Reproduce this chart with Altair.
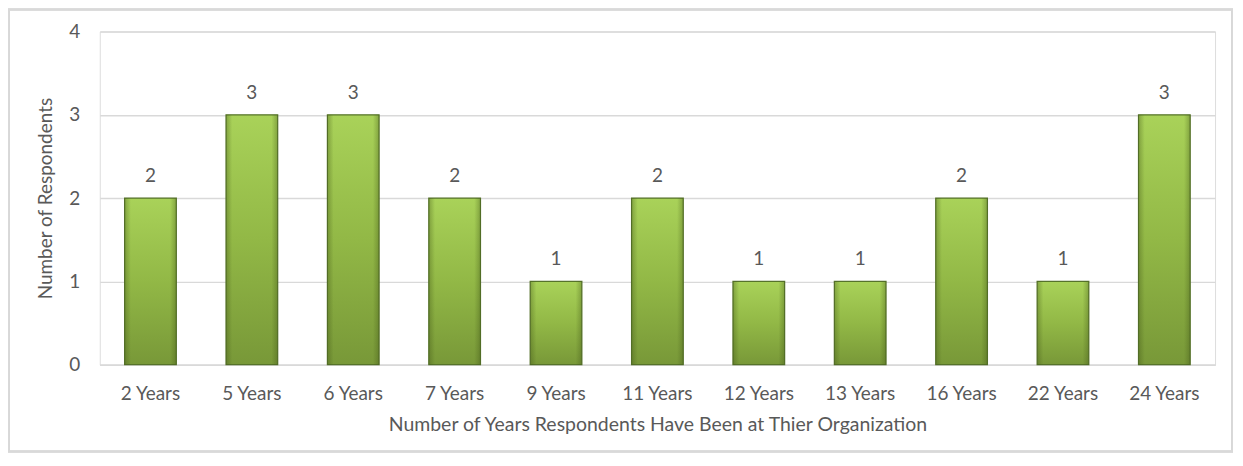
import altair as alt
import pandas as pd

categories = ["2 Years", "5 Years", "6 Years", "7 Years", "9 Years", "11 Years",
              "12 Years", "13 Years", "16 Years", "22 Years", "24 Years"]
values = [2, 3, 3, 2, 1, 2, 1, 1, 2, 1, 3]

df = pd.DataFrame({"cat": categories, "val": values})

W, H = 1118, 334
FONT = "Lato"
GREY = "#595959"
FS = 19

x = alt.X("cat:N", sort=categories,
          scale=alt.Scale(paddingInner=0.49, paddingOuter=0.245),
          axis=alt.Axis(title="Number of Years Respondents Have Been at Thier Organization",
                        labelAngle=0, labelFontSize=FS, labelColor=GREY, labelFont=FONT,
                        labelPadding=20, ticks=False, domainColor="#d9d9d9", domainWidth=1.5,
                        titleFontSize=19.5, titleColor=GREY, titleFont=FONT, titleFontWeight="normal",
                        titlePadding=12))
y = alt.Y("val:Q", scale=alt.Scale(domain=[0, 4]),
          axis=alt.Axis(title="Number of Respondents", values=[0, 1, 2, 3, 4], format="d",
                        labelFontSize=FS, labelColor=GREY, labelFont=FONT, labelPadding=20,
                        ticks=False, domain=False, gridColor="#d9d9d9", gridWidth=1.5,
                        titleFontSize=FS, titleColor=GREY, titleFont=FONT, titleFontWeight="normal",
                        titlePadding=13))

border = alt.Chart(df).mark_rect(fill="transparent", stroke="#d9d9d9", strokeWidth=1.5).encode(
    x=alt.value(-91), x2=alt.value(W + 17), y=alt.value(-22), y2=alt.value(H + 87)
)

grad = alt.Gradient(
    gradient="linear", x1=0, x2=0, y1=0, y2=1,
    stops=[alt.GradientStop(color="#a9d259", offset=0),
           alt.GradientStop(color="#92b846", offset=0.5),
           alt.GradientStop(color="#789838", offset=1)],
)

bars = alt.Chart(df).mark_bar(fill=grad, stroke="#56732a", strokeWidth=1.2).encode(x=x, y=y)

side = alt.Gradient(
    gradient="linear", x1=0, x2=1, y1=0, y2=0,
    stops=[alt.GradientStop(color="rgba(60,80,20,0.35)", offset=0),
           alt.GradientStop(color="rgba(60,80,20,0)", offset=0.12),
           alt.GradientStop(color="rgba(60,80,20,0)", offset=0.88),
           alt.GradientStop(color="rgba(60,80,20,0.35)", offset=1)],
)
shade = alt.Chart(df).mark_bar(fill=side).encode(x=alt.X("cat:N", sort=categories), y="val:Q")

labels = alt.Chart(df).mark_text(dy=-22, fontSize=FS, color=GREY, font=FONT).encode(
    x=alt.X("cat:N", sort=categories), y="val:Q", text="val:Q"
)

chart = alt.layer(border, bars, shade, labels).properties(
    width=W, height=H,
    autosize=alt.AutoSizeParams(type="none"),
    padding={"left": 92, "top": 23, "right": 20, "bottom": 90},
).configure_view(stroke=None).configure(background="white")

chart.save("out.html", embed_options={"renderer": "svg", "actions": False})
